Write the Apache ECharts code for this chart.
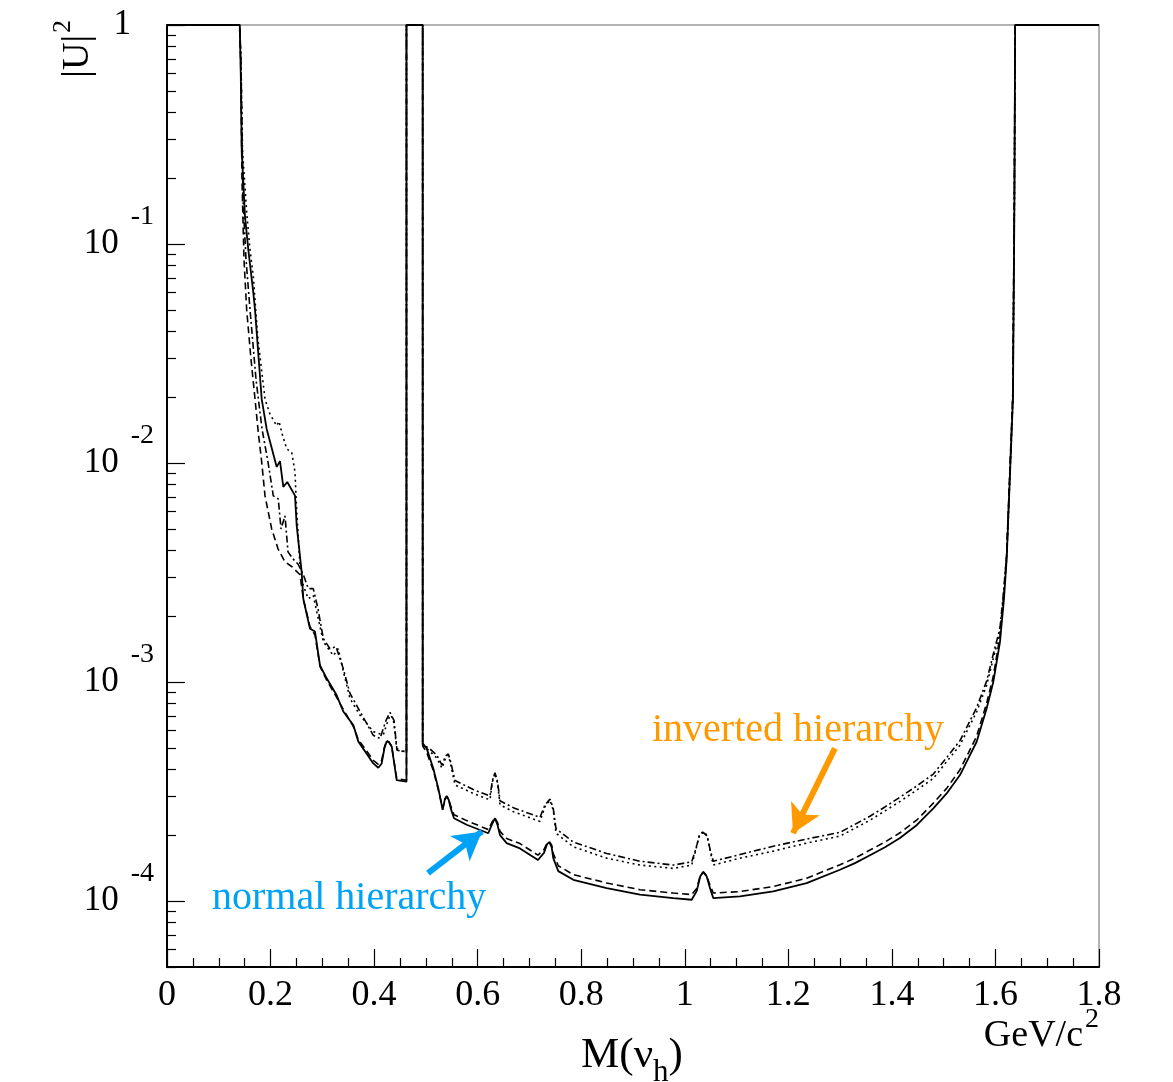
<!DOCTYPE html>
<html><head><meta charset="utf-8">
<script src="https://cdn.jsdelivr.net/npm/echarts@6/dist/echarts.min.js"></script>
<style>html,body{margin:0;padding:0;background:#fff}#c{width:1173px;height:1082px}</style>
</head><body><div id="c"></div>
<script>
// ---- data: [mass GeV/c^2, |U|^2] ----
const nhSolid = [
[0,1],[0.1405,1],[0.1425,0.59],[0.1443,0.27],[0.1506,0.134],[0.157,0.0944],[0.1667,0.060],[0.170,0.050],
[0.1829,0.0196],[0.1925,0.0143],[0.2119,0.0096],[0.2182,0.0102],[0.2246,0.00778],[0.2323,0.00819],[0.2472,0.0071],
[0.2505,0.00518],[0.2601,0.00318],[0.2632,0.0024],[0.2762,0.00175],[0.2858,0.0017],[0.2955,0.00119],[0.3084,0.00104],
[0.3277,0.00087],[0.3405,0.000734],[0.3598,0.000636],[0.3694,0.000536],[0.3984,0.000425],[0.4081,0.000406],
[0.4146,0.000425],[0.4200,0.000500],[0.4243,0.000536],[0.4290,0.000530],[0.434,0.000508],[0.4436,0.000357],[0.4625,0.000351],[0.4625,1],[0.4938,1],
[0.4938,0.000525],[0.5015,0.000498],[0.5143,0.000403],[0.524,0.000327],[0.5324,0.000261],[0.5365,0.000290],[0.5402,0.000300],
[0.5440,0.000290],[0.5479,0.000265],[0.5543,0.000239],[0.5788,0.000223],[0.6205,0.000204],[0.6280,0.000225],[0.6334,0.000239],[0.6385,0.000222],[0.6431,0.000200],
[0.656,0.000184],[0.6817,0.000174],[0.7165,0.000154],[0.7280,0.000166],[0.7340,0.000182],[0.7383,0.000186],[0.7430,0.000176],[0.746,0.000157],[0.7557,0.000137],
[0.7847,0.000125],[0.8492,0.0001146],[0.9135,0.0001069],[0.9778,0.0001032],[1.0133,0.0001014],[1.023,0.000111],
[1.0300,0.000130],[1.0357,0.0001355],[1.0420,0.000130],[1.0487,0.0001146],[1.055,0.0001032],[1.1066,0.000105],[1.1709,0.0001107],[1.2354,0.0001207],
[1.2997,0.000139],[1.3287,0.000149],[1.3577,0.000162],[1.3866,0.000176],[1.4156,0.000194],[1.4478,0.000222],[1.480,0.000265],[1.5058,0.000310],
[1.5315,0.000376],[1.5476,0.000448],[1.5637,0.000534],
[1.583,0.000757],[1.5958,0.00100],[1.6087,0.00152],[1.6165,0.0024],[1.6217,0.00366],[1.6338,0.0196],[1.6367,0.16],
[1.638,1],[1.8,1]
];
const nhDashed = [
[0,1],[0.1400,1],[0.1423,0.69],[0.1448,0.197],[0.1487,0.085],[0.1539,0.050],[0.1622,0.0298],[0.1700,0.0196],
[0.1763,0.0138],[0.1829,0.0101],[0.1893,0.00708],[0.2022,0.0050],[0.2144,0.00406],[0.2279,0.00354],[0.2414,0.00336],
[0.2569,0.00309],[0.2632,0.0024],[0.2762,0.00179],[0.2858,0.00164],[0.2955,0.00118],[0.3084,0.00102],[0.3277,0.000851],
[0.3405,0.000750],[0.3598,0.000627],[0.3694,0.000547],[0.3984,0.000439],[0.4081,0.000421],[0.4146,0.000439],
[0.4200,0.000505],[0.4243,0.000541],[0.4290,0.000532],[0.434,0.000508],[0.4436,0.000363],[0.4625,0.000356],[0.4625,1],[0.4938,1],
[0.4938,0.000510],[0.5015,0.000478],[0.5143,0.000395],[0.524,0.000322],[0.5324,0.000265],[0.5365,0.000292],[0.5402,0.000302],
[0.5440,0.000292],[0.5479,0.000272],[0.5543,0.000248],[0.5788,0.000233],[0.6205,0.000212],[0.6280,0.000230],[0.6334,0.000240],[0.6385,0.000228],[0.6431,0.000208],
[0.656,0.000193],[0.6817,0.000183],[0.7165,0.000162],[0.7280,0.000172],[0.7340,0.000184],[0.7383,0.000187],[0.7430,0.000180],[0.746,0.000165],[0.7557,0.000145],
[0.7847,0.000132],[0.8492,0.000121],[0.9135,0.0001127],[0.9778,0.0001088],[1.0133,0.0001070],[1.023,0.000114],
[1.0300,0.000131],[1.0357,0.0001360],[1.0420,0.000131],[1.0487,0.000118],[1.055,0.0001088],[1.1066,0.0001105],[1.1709,0.0001165],[1.2354,0.0001272],
[1.2997,0.0001465],[1.3287,0.000157],[1.3577,0.000171],[1.3866,0.000186],[1.4156,0.000205],[1.4478,0.000234],[1.480,0.000280],[1.5058,0.000327],
[1.5315,0.000398],[1.5476,0.000474],[1.5637,0.000566],
[1.583,0.000800],[1.5958,0.00106],[1.6087,0.00162],[1.6165,0.00255],[1.6217,0.0039],[1.6335,0.021],[1.6365,0.17],
[1.638,1],[1.8,1]
];
const ihDotted = [
[0,1],[0.1405,1],[0.1429,0.69],[0.1458,0.27],[0.1539,0.139],[0.1603,0.0944],[0.1667,0.0711],[0.1713,0.0503],
[0.1757,0.0367],[0.1893,0.0196],[0.1989,0.0167],[0.2119,0.0148],[0.2163,0.0155],[0.2215,0.0138],[0.2312,0.0116],
[0.2408,0.0112],[0.2472,0.0091],[0.2505,0.00598],[0.2569,0.00341],[0.2632,0.00276],[0.2729,0.0024],[0.2825,0.00249],
[0.2891,0.00210],[0.3019,0.00153],[0.3212,0.00132],[0.3308,0.00142],[0.3405,0.00112],[0.3534,0.000841],
[0.3727,0.000706],[0.3984,0.000594],[0.4177,0.000573],[0.4249,0.000647],[0.4307,0.000706],[0.437,0.000682],
[0.4436,0.000498],[0.4564,0.000481],[0.4625,0.000481],[0.4625,1],[0.4938,1],
[0.4938,0.000515],[0.5079,0.000482],[0.5214,0.000449],[0.5311,0.000404],[0.5380,0.000450],[0.5433,0.000464],[0.5480,0.000420],[0.5562,0.000339],
[0.5915,0.000310],[0.6238,0.000290],[0.6285,0.000350],[0.6334,0.000383],[0.6385,0.000345],[0.6431,0.000275],[0.6688,0.000256],[0.7203,0.000231],
[0.7300,0.000270],[0.7397,0.000289],[0.7460,0.000260],[0.7513,0.000204],[0.7847,0.000177],[0.8492,0.000157],[0.9135,0.000146],[0.9778,0.000141],
[1.0133,0.000146],[1.0210,0.000170],[1.0280,0.000200],[1.0357,0.000208],[1.0430,0.000200],[1.0490,0.000170],[1.055,0.000146],[1.1066,0.000157],[1.1709,0.000169],[1.2354,0.000184],
[1.2997,0.000198],[1.3287,0.000215],[1.3577,0.000234],[1.3866,0.000258],[1.4156,0.000285],[1.4478,0.000321],[1.480,0.000363],[1.5058,0.000433],
[1.5315,0.000515],[1.5476,0.000614],[1.5637,0.000731],
[1.583,0.000967],[1.5958,0.00128],[1.6087,0.00169],[1.6151,0.0024],[1.6217,0.00366],[1.6338,0.0196],[1.6367,0.16],
[1.638,1],[1.8,1]
];
const ihDashDot = [
[0,1],[0.1405,1],[0.1429,0.69],[0.1468,0.160],[0.1526,0.085],[0.1603,0.0503],[0.1719,0.0241],[0.1835,0.0143],
[0.1951,0.0101],[0.2053,0.00708],[0.2149,0.00686],[0.2202,0.0050],[0.2279,0.00574],[0.2337,0.00393],[0.2433,0.00365],
[0.2530,0.00346],[0.2627,0.00312],[0.2729,0.00267],[0.2825,0.00267],[0.2916,0.00216],[0.3019,0.00158],[0.3148,0.00142],
[0.3264,0.00145],[0.3405,0.00115],[0.3534,0.000887],[0.3727,0.000734],[0.3984,0.000571],[0.4114,0.000553],
[0.4230,0.000668],[0.4307,0.000727],[0.4384,0.000668],[0.4442,0.000488],[0.4625,0.000481],[0.4625,1],[0.4938,1],
[0.4938,0.000520],[0.5079,0.000495],[0.5214,0.000462],[0.5311,0.000418],[0.5380,0.000460],[0.5433,0.000470],[0.5480,0.000430],[0.5562,0.000355],
[0.5915,0.000323],[0.6238,0.000302],[0.6285,0.000355],[0.6334,0.000385],[0.6385,0.000350],[0.6431,0.000287],[0.6688,0.000267],[0.7203,0.000241],
[0.7300,0.000275],[0.7397,0.000292],[0.7460,0.000265],[0.7513,0.000214],[0.7847,0.000186],[0.8492,0.000165],[0.9135,0.000152],[0.9778,0.000146],
[1.0133,0.000151],[1.0210,0.000172],[1.0280,0.000198],[1.0357,0.000206],[1.0430,0.000198],[1.0490,0.000172],[1.055,0.000152],[1.1066,0.000163],[1.1709,0.000178],[1.2354,0.000192],
[1.2997,0.000206],[1.3287,0.000224],[1.3577,0.000244],[1.3866,0.000269],[1.4156,0.000298],[1.4478,0.000335],[1.480,0.000380],[1.5058,0.000452],
[1.5315,0.000540],[1.5476,0.000642],[1.5637,0.000765],
[1.583,0.00101],[1.5958,0.00134],[1.6087,0.00176],[1.6151,0.0025],[1.6217,0.0038],[1.6335,0.020],[1.6365,0.17],
[1.638,1],[1.8,1]
];
const yMajorTicks = [1e-4,1e-3,1e-2,1e-1,1];
const xLabels = ['0','0.2','0.4','0.6','0.8','1','1.2','1.4','1.6','1.8'];
const arrowIH = [[1.290,4.98e-4],[1.209,2.04e-4]];
const arrowNH = [[0.504,1.34e-4],[0.6083,2.08e-4]];

const FONT = 'Liberation Serif';
const yMinorTicks = [];
for (let e = -5; e <= -1; e++) for (let m = 2; m <= 9; m++) yMinorTicks.push(m * Math.pow(10, e));

const chart = echarts.init(document.getElementById('c'), null, {renderer:'canvas'});
function line(name, data, type, width){
  return {name, type:'line', data, symbol:'none', showSymbol:false, animation:false, z:3,
    lineStyle:{color:'#000', width, type}, clip:true};
}
const s1 = line('NH solid', nhSolid, 'solid', 1.8);
s1.markLine = {silent:true, animation:false, symbol:['none','arrow'], symbolSize:[24,28], label:{show:false},
  data:[
    [{coord:arrowIH[0], lineStyle:{color:'#ff9900', width:6, type:'solid'}}, {coord:arrowIH[1]}],
    [{coord:arrowNH[0], lineStyle:{color:'#00a2f5', width:6, type:'solid'}}, {coord:arrowNH[1]}]
  ]};
chart.setOption({
  animation:false,
  backgroundColor:'#fff',
  grid:{left:167, right:74, top:25, bottom:115, show:true, borderColor:'#999', borderWidth:1.5, backgroundColor:'transparent'},
  xAxis:{type:'value', min:0, max:1.8, interval:0.2,
    axisLine:{show:true, lineStyle:{color:'#000', width:2}},
    axisTick:{show:true, inside:true, length:18, lineStyle:{color:'#000', width:1.2}},
    minorTick:{show:true, splitNumber:4, length:9, lineStyle:{color:'#000', width:1.2}},
    splitLine:{show:false}, minorSplitLine:{show:false},
    axisLabel:{fontFamily:FONT, fontSize:36, color:'#000', margin:11,
      formatter:(v)=>xLabels[Math.round(v/0.2)] }
  },
  yAxis:[{type:'log', logBase:10, min:5e-5, max:1,
    axisLine:{show:true, lineStyle:{color:'#000', width:2}},
    axisTick:{show:true, inside:true, length:18, customValues:yMajorTicks, lineStyle:{color:'#000', width:1.2}},
    splitLine:{show:false},
    axisLabel:{customValues:yMajorTicks, margin:13, color:'#000',
      formatter:(v)=>{const e=Math.round(Math.log10(v)); return e===0?'{one|1}':'{b|10}{s|'+e+'}';},
      rich:{b:{fontFamily:FONT, fontSize:35, color:'#000'},
            s:{fontFamily:FONT, fontSize:28, color:'#000', padding:[0,0,54,12]},
            one:{fontFamily:FONT, fontSize:35, color:'#000', padding:[0,23,0,0]}}}
  },{type:'log', logBase:10, min:5e-5, max:1, position:'left',
    axisLine:{show:false}, splitLine:{show:false}, axisLabel:{show:false},
    axisTick:{show:true, inside:true, length:9, customValues:yMinorTicks, lineStyle:{color:'#000', width:1.2}}
  }],
  series:[
    s1,
    line('NH dashed', nhDashed, [7,4], 1.6),
    line('IH dotted', ihDotted, [2,3.5], 1.6),
    line('IH dash-dot', ihDashDot, [7,3,2,3], 1.6)
  ],
  graphic:[
    {type:'text', x:78, y:20, rotation:Math.PI/2, style:{text:'{a||U|}{s|2}', textAlign:'right', textVerticalAlign:'middle',
      rich:{a:{fontFamily:FONT, fontSize:38, fill:'#000'}, s:{fontFamily:FONT, fontSize:26, fill:'#000', padding:[0,0,30,2]}}}},
    {type:'text', x:632, y:1056, style:{text:'{m|M(ν}{h|h}{m|)}', textAlign:'center', textVerticalAlign:'middle',
      rich:{m:{fontFamily:FONT, fontSize:43, fill:'#000'}, h:{fontFamily:FONT, fontSize:31, fill:'#000', padding:[34,0,0,0]}}}},
    {type:'text', x:1099, y:1036, style:{text:'{g|GeV/c}{s|2}', textAlign:'right', textVerticalAlign:'middle',
      rich:{g:{fontFamily:FONT, fontSize:38, fill:'#000'}, s:{fontFamily:FONT, fontSize:28, fill:'#000', padding:[0,0,32,2]}}}},
    {type:'text', x:652, y:730, style:{text:'inverted hierarchy', fontFamily:FONT, fontSize:40, fill:'#ff9900', textVerticalAlign:'middle'}},
    {type:'text', x:212, y:898, style:{text:'normal hierarchy', fontFamily:FONT, fontSize:40, fill:'#00a2f5', textVerticalAlign:'middle'}}
  ]
});
</script></body></html>
